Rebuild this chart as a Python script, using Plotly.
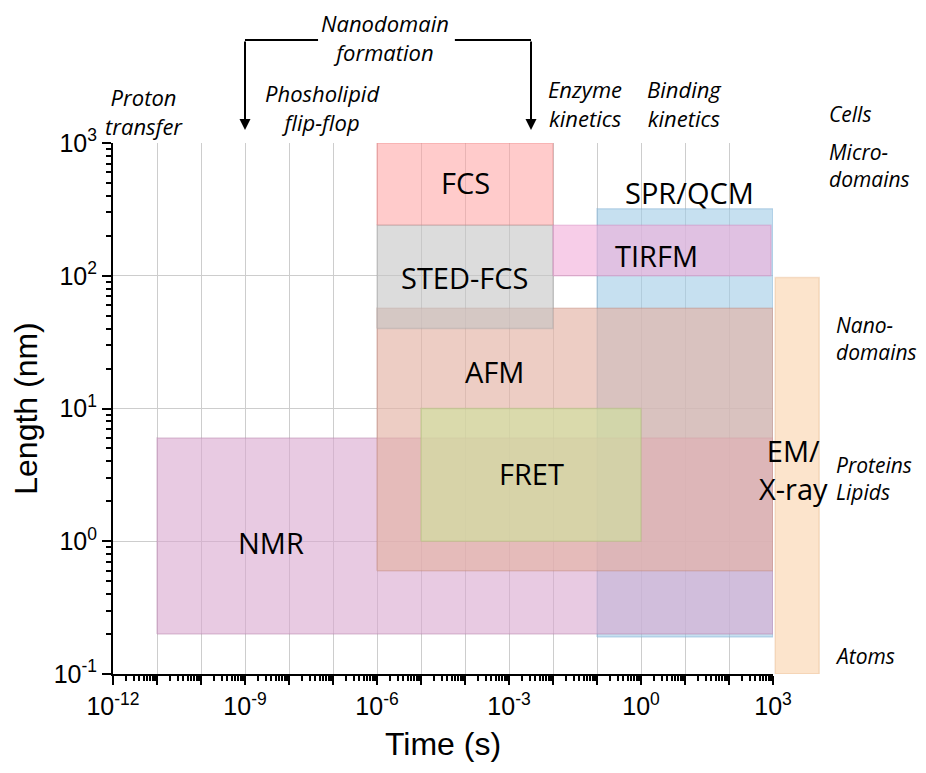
import math
import plotly.graph_objects as go

# ---------------- data ----------------
methods = ["SPR/QCM", "NMR", "AFM", "FCS", "STED-FCS", "TIRFM", "FRET", "EM/X-ray"]
time_min = [1e-1, 1e-11, 1e-6, 1e-6, 1e-6, 1e-2, 1e-5, 10**3.05]
time_max = [1e3, 1e3, 1e3, 1e-2, 1e-2, 900, 1e0, 10**4.05]
length_min = [0.19, 0.2, 0.6, 240, 40, 100, 1.0, 0.1]
length_max = [320, 6.0, 57, 1000, 240, 240, 10, 97]
label_time = [10**1.11, 10**-8.41, 10**-3.32, 1e-4, 1e-4, 10**0.36, 10**-2.48, 10**3.47]
label_length = [10**2.63, 10**-0.006, 10**1.275, 10**2.70, 10**1.99, 10**2.156, 10**0.507, 10**0.537]

processes = ["Proton<br>transfer", "Phosholipid<br>flip-flop", "Nanodomain<br>formation",
             "Enzyme<br>kinetics", "Binding<br>kinetics"]
process_time = [10**-11.3, 10**-7.25, 10**-5.82, 10**-1.27, 10**0.98]

scales = ["Cells", "Micro-<br>domains", "Nano-<br>domains", "Proteins<br>Lipids", "Atoms"]

arrow_targets = [1e-9, 10**-2.5]

x_exps = list(range(-12, 4))
y_exps = list(range(-1, 4))

# ---------------- style ----------------
fills = {
    "SPR/QCM": "rgba(160,204,230,0.6)",
    "NMR": "rgba(217,167,207,0.6)",
    "AFM": "rgba(227,178,164,0.65)",
    "FCS": "rgba(255,160,160,0.55)",
    "STED-FCS": "rgba(197,197,197,0.6)",
    "TIRFM": "rgba(242,172,217,0.6)",
    "FRET": "rgba(205,227,156,0.6)",
    "EM/X-ray": "rgba(250,210,170,0.6)",
}
edges = {
    "SPR/QCM": "rgba(120,170,205,0.35)",
    "NMR": "rgba(180,130,170,0.35)",
    "AFM": "rgba(190,130,115,0.35)",
    "FCS": "rgba(230,120,120,0.35)",
    "STED-FCS": "rgba(160,160,160,0.35)",
    "TIRFM": "rgba(210,130,185,0.35)",
    "FRET": "rgba(165,190,110,0.35)",
    "EM/X-ray": "rgba(225,175,130,0.35)",
}

# page offset of the figure div (body margin)
OFF = 8
W, H = 926 - 2 * OFF, 773 - 2 * OFF
L, T = 113 - OFF, 143 - OFF
B = H - (674 - OFF)
R = 50
plot_w = W - L - R
plot_h = H - T - B
px_per_dec = 660 / 15.0
x_dom_end = 660 / plot_w
x2_max = -12 + plot_w / px_per_dec


def ypaper(py_page):
    return (674 - py_page) / plot_h


def xpaper(px_page):
    return (px_page - 113) / plot_w


fig = go.Figure()
for i, m in enumerate(methods):
    x0, x1 = time_min[i], time_max[i]
    y0, y1 = length_min[i], length_max[i]
    on2 = m == "EM/X-ray"
    fig.add_trace(go.Scatter(
        x=[x0, x1, x1, x0, x0], y=[y0, y0, y1, y1, y0],
        mode="lines", fill="toself", fillcolor=fills[m],
        line=dict(color=edges[m], width=1.5),
        hoverinfo="skip", showlegend=False,
        xaxis="x2" if on2 else "x", yaxis="y2" if on2 else "y",
    ))

tick_font = dict(family="Liberation Sans, Arial, sans-serif", size=25, color="black")
title_font = dict(family="Liberation Sans, Arial, sans-serif", size=32, color="black")
label_font = dict(family="Open Sans, sans-serif", size=29, color="black")
ital_font = dict(family="Open Sans, sans-serif", size=22, color="black")
side_font = dict(family="Open Sans, sans-serif", size=21, color="black")

x_ticktext = [f"10<sup>{e}</sup>" if e % 3 == 0 else "" for e in x_exps]
x_minor = [m * 10**e for e in x_exps[:-1] for m in range(2, 10)]
y_minor = [m * 10**e for e in y_exps[:-1] for m in range(2, 10)]

fig.update_layout(
    width=W, height=H,
    margin=dict(l=L, r=R, t=T, b=B, autoexpand=False),
    paper_bgcolor="white", plot_bgcolor="rgba(0,0,0,0)",
    xaxis=dict(
        type="log", range=[-12, 3], domain=[0, x_dom_end],
        tickmode="array", tickvals=[10**e for e in x_exps], ticktext=x_ticktext,
        ticks="outside", ticklen=9, tickwidth=2, tickcolor="black",
        showline=True, linecolor="black", linewidth=2,
        showgrid=True, gridcolor="rgb(205,205,205)", gridwidth=1,
        zeroline=False, tickfont=tick_font,
        minor=dict(tickmode="array", tickvals=x_minor, ticks="outside", ticklen=5,
                   tickwidth=1.5, tickcolor="black", showgrid=False),
        title=dict(text="Time (s)", font=title_font, standoff=14),
    ),
    yaxis=dict(
        type="log", range=[-1, 3], domain=[0, 1],
        tickmode="array", tickvals=[10**e for e in y_exps],
        ticktext=[f"10<sup>{e}</sup>" for e in y_exps],
        ticks="outside", ticklen=9, tickwidth=2, tickcolor="black",
        showline=True, linecolor="black", linewidth=2,
        showgrid=True, gridcolor="rgb(205,205,205)", gridwidth=1,
        zeroline=False, tickfont=tick_font,
        minor=dict(tickmode="array", tickvals=y_minor, ticks="outside", ticklen=5,
                   tickwidth=1.5, tickcolor="black", showgrid=False),
        title=dict(text="Length (nm)", font=title_font, standoff=8),
    ),
    xaxis2=dict(type="log", range=[-12, x2_max], domain=[0, 1], anchor="y2", visible=False),
    yaxis2=dict(type="log", range=[-1, 3], domain=[0, 1], anchor="x2", visible=False),
)

annotations = []
for i, m in enumerate(methods):
    on2 = m == "EM/X-ray"
    annotations.append(dict(
        x=math.log10(label_time[i]), y=math.log10(label_length[i]),
        xref="x2" if on2 else "x", yref="y2" if on2 else "y",
        xanchor="center", yanchor="middle",
        text=m.replace("EM/X-ray", "EM/<br>X-ray"), showarrow=False, font=label_font,
    ))

proc_y = [ypaper(111), ypaper(107.5), ypaper(37.5), ypaper(104), ypaper(104)]
for i, p in enumerate(processes):
    annotations.append(dict(
        x=math.log10(process_time[i]), y=proc_y[i], xref="x", yref="paper",
        xanchor="center", yanchor="middle",
        text=f"<i>{p}</i>", showarrow=False, font=ital_font, align="center",
    ))

scale_x = [827, 827, 834, 834, 833]
scale_y = [114, 165.5, 338, 478.5, 656]
for i, s in enumerate(scales):
    annotations.append(dict(
        x=xpaper(scale_x[i]), y=ypaper(scale_y[i]),
        xref="paper", yref="paper", xanchor="left", yanchor="middle",
        text=f"<i>{s}</i>", showarrow=False, font=side_font, align="left",
    ))

# bent arrows for "Nanodomain formation"
bar_y = ypaper(40)
tip_y = ypaper(130)
for t in arrow_targets:
    annotations.append(dict(
        x=math.log10(t), y=tip_y, xref="x", yref="paper", text="",
        showarrow=True, ax=0, ay=-(130 - 40), arrowhead=2, arrowsize=1.1,
        arrowwidth=2, arrowcolor="black", standoff=0,
    ))

fig.update_layout(annotations=annotations)

shapes = [
    dict(type="line", xref="x", yref="paper", x0=arrow_targets[0], x1=10**-7.34,
         y0=bar_y, y1=bar_y, line=dict(color="black", width=2)),
    dict(type="line", xref="x", yref="paper", x0=10**-4.23, x1=arrow_targets[1],
         y0=bar_y, y1=bar_y, line=dict(color="black", width=2)),
]
fig.update_layout(shapes=shapes)

fig.write_html("out.html")
